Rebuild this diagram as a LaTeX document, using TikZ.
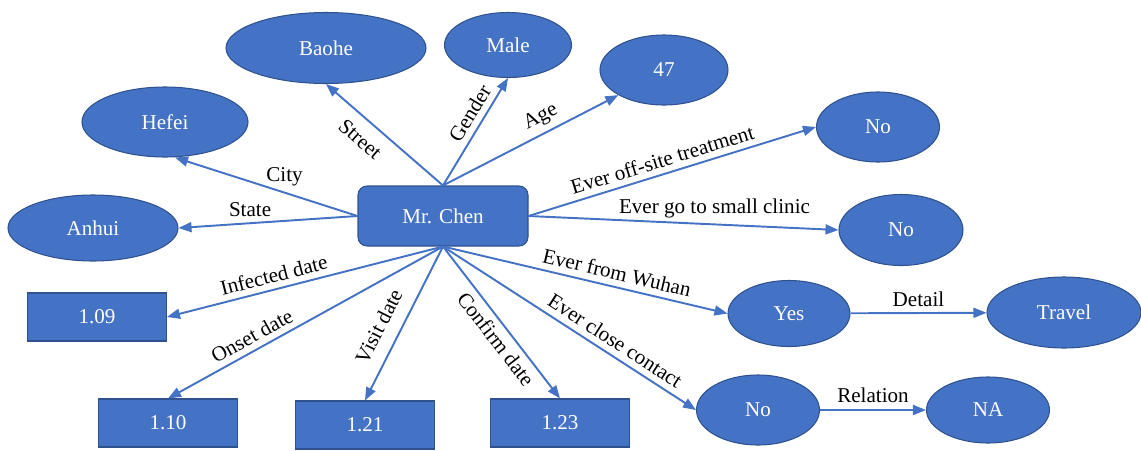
\documentclass[tikz,border=0pt]{standalone}
\usepackage{fontspec}
\setmainfont{Liberation Serif}
\usetikzlibrary{shapes.geometric,arrows.meta}
\definecolor{kgblue}{HTML}{4472C4}
\definecolor{kgedge}{HTML}{2F528F}
\tikzset{
    entity/.style={ellipse, draw=kgedge, line width=0.6pt, fill=kgblue, text=white, inner sep=0pt},
    datebox/.style={rectangle, draw=kgedge, line width=0.6pt, fill=kgblue, text=white, minimum width=2.78cm, minimum height=0.96cm},
    rel/.style={-{Triangle[length=0.26cm,width=0.2cm]}, draw=kgblue, line width=1.1pt},
}
\begin{document}
\begin{tikzpicture}[font=\fontsize{12}{14}\selectfont]
\useasboundingbox (0,0) rectangle (22.82,-9);
% Patient node
\node[draw=kgedge, line width=0.6pt, fill=kgblue, text=white, rectangle, rounded corners=0.18cm, minimum width=3.4cm, minimum height=1.2cm] (chen) at (8.86,-4.32) {Mr. Chen};

% Location and profile nodes
\node[entity, minimum width=4.0cm, minimum height=1.42cm] (baohe) at (6.52,-0.96) {Baohe};
\node[entity, minimum width=2.54cm, minimum height=1.3cm] (male) at (10.16,-0.9) {Male};
\node[entity, minimum width=2.56cm, minimum height=1.4cm] (age) at (13.28,-1.4) {47};
\node[entity, minimum width=3.32cm, minimum height=1.4cm] (hefei) at (3.3,-2.44) {Hefei};
\node[entity, minimum width=3.4cm, minimum height=1.32cm] (anhui) at (1.86,-4.56) {Anhui};

% Yes/no nodes
\node[entity, minimum width=2.46cm, minimum height=1.4cm] (offsite) at (17.56,-2.54) {No};
\node[entity, minimum width=2.48cm, minimum height=1.42cm] (clinic) at (18.02,-4.6) {No};
\node[entity, minimum width=2.44cm, minimum height=1.32cm] (wuhan) at (15.78,-6.27) {Yes};
\node[entity, minimum width=3.08cm, minimum height=1.42cm] (travel) at (21.28,-6.25) {Travel};
\node[entity, minimum width=2.46cm, minimum height=1.4cm] (contact) at (15.16,-8.2) {No};
\node[entity, minimum width=2.46cm, minimum height=1.32cm] (na) at (19.76,-8.2) {NA};

% Date nodes
\node[datebox] (infected) at (1.94,-6.34) {1.09};
\node[datebox] (onset) at (3.36,-8.46) {1.10};
\node[datebox] (visit) at (7.3,-8.5) {1.21};
\node[datebox] (confirm) at (11.2,-8.46) {1.23};

% Relationships
\draw[rel] (chen.north) -- (baohe.south) node[pos=0.6, below=3pt, sloped] {Street};
\draw[rel] (chen.north) -- (male.south) node[pos=0.6, above, sloped] {Gender};
\draw[rel] (chen.north) -- (age.south west) node[pos=0.6, above, sloped] {Age};
\draw[rel] (chen.west) -- ([xshift=0.2cm]hefei.south) node[pos=0.4, above] {City};
\draw[rel] (chen.west) -- (anhui.east) node[pos=0.6, above] {State};
\draw[rel] (chen.east) -- (offsite.west) node[pos=0.48, above, sloped] {Ever off-site treatment};
\draw[rel] (chen.east) -- (clinic.west) node[pos=0.6, above] {Ever go to small clinic};
\draw[rel] (chen.south) -- (wuhan.west) node[pos=0.6, above, sloped] {Ever from Wuhan};
\draw[rel] (chen.south) -- (contact.west) node[pos=0.65, above, sloped] {Ever close contact};
\draw[rel] (chen.south) -- (infected.east) node[pos=0.6, above, sloped] {Infected date};
\draw[rel] (chen.south) -- (onset.north) node[pos=0.67, above, sloped] {Onset date};
\draw[rel] (chen.south) -- (visit.north) node[pos=0.58, above=4pt, sloped] {Visit date};
\draw[rel] (chen.south) -- (confirm.north) node[pos=0.55, below, sloped] {Confirm date};
\draw[rel] (wuhan) -- (travel) node[midway, above] {Detail};
\draw[rel] (contact) -- (na) node[midway, above] {Relation};

\end{tikzpicture}
\end{document}
